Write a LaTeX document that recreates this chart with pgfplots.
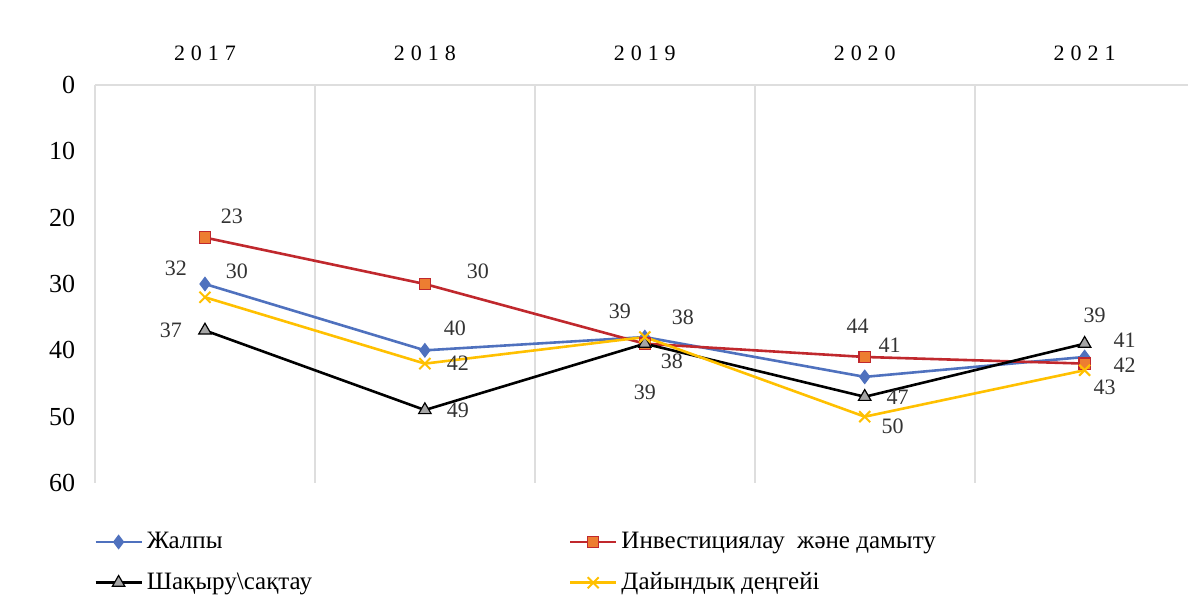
\documentclass[border=0pt]{standalone}
\usepackage{fontspec}
\setmainfont{Liberation Serif}
\newfontfamily\yearfont[LetterSpace=27]{Liberation Serif}
\usepackage{pgfplots}
\usepackage{pgfplotstable}
\pgfplotsset{compat=1.18}
\definecolor{cblue}{RGB}{79,113,190}
\definecolor{cred}{RGB}{192,40,45}
\definecolor{corange}{RGB}{237,125,49}
\definecolor{cyellow}{RGB}{255,192,0}
\definecolor{cgrid}{RGB}{222,222,222}

\pgfplotstableread{
x y dx dy lbl
1 30 16 6.5 30
2 40 15 11 40
3 38 19 10 38
4 44 -3.5 25.5 44
5 41 20 8.5 41
}\tblue
\pgfplotstableread{
x y dx dy lbl
1 23 13.5 10.5 23
2 30 26.5 6.5 30
3 39 -12.5 16 39
4 41 12.5 6 41
5 42 20 -1 42
}\tred
\pgfplotstableread{
x y dx dy lbl
1 37 -17 0 37
2 49 16.5 0 49
3 39 0 -24.5 39
4 47 16.5 0 47
5 39 5 14 39
}\tblack
\pgfplotstableread{
x y dx dy lbl
1 32 -14.5 14.5 32
2 42 16.5 0 42
3 38 13.5 -12 38
4 50 14 -5 50
5 43 10 -8.5 43
}\tyellow

\begin{document}
\begin{tikzpicture}[font=\fontsize{11}{13}\selectfont]
\useasboundingbox (-47.5pt,-58pt) rectangle (546.5pt,241.5pt);
\begin{axis}[
  at={(0,0)}, anchor=south west,
  scale only axis, width=546.5pt, height=199pt,
  xmin=0.5, xmax=5.47, ymin=0, ymax=60, y dir=reverse,
  xtick={1,2,3,4,5},
  xticklabels={{\yearfont 2017},{\yearfont 2018},{\yearfont 2019},{\yearfont 2020},{\yearfont 2021}},
  xticklabel pos=upper,
  xticklabel style={yshift=8pt},
  ytick={0,10,...,60},
  yticklabel style={xshift=-6pt, font=\fontsize{13}{15}\selectfont},
  /pgf/number format/assume math mode=true,
  major tick length=0pt,
  axis line style={draw=none},
  extra x ticks={0.5,1.5,2.5,3.5,4.5},
  extra x tick labels={},
  extra x tick style={grid=major, major grid style={cgrid, line width=0.9pt}},
  extra y ticks={0},
  extra y tick labels={},
  extra y tick style={grid=major, major grid style={cgrid, line width=0.9pt}},
  clip=false,
  line width=1.3pt,
  mark size=3pt,
  point meta=explicit symbolic,
  visualization depends on={\thisrow{dx}\as\mydx},
  visualization depends on={\thisrow{dy}\as\mydy},
  nodes near coords,
  every node near coord/.style={anchor=center, xshift=\mydx pt, yshift=\mydy pt, text=black!80, font=\fontsize{11}{13}\selectfont},
  legend columns=2,
  legend cell align=left,
  legend style={at={(0,0)}, anchor=north west, xshift=-4pt, yshift=-20pt, draw=none, fill=none, row sep=6.5pt,
    font=\fontsize{12.5}{14}\selectfont,
    /tikz/every even column/.append style={column sep=0pt}},
  legend image code/.code={\draw[mark repeat=2,mark phase=2] plot coordinates {(0pt,0pt)(11.5pt,0pt)(23pt,0pt)};},
]
\addplot[cblue, mark=diamond*, mark options={fill=cblue, draw=cblue, line width=0.6pt, scale=1.1}] table[x=x, y=y, meta=lbl] {\tblue};
\addlegendentry{\makebox[209pt][l]{Жалпы}}
\addplot[cred, mark=square*, mark options={fill=corange, draw=cred, line width=0.6pt, scale=0.95}] table[x=x, y=y, meta=lbl] {\tred};
\addlegendentry{Инвестициялау\ \ және дамыту}
\addplot[black, mark=triangle*, mark options={fill=gray!70, draw=black, line width=0.6pt, scale=1.2}] table[x=x, y=y, meta=lbl] {\tblack};
\addlegendentry{\makebox[209pt][l]{Шақыру\textbackslash сақтау}}
\addplot[cyellow, mark=x, mark options={draw=cyellow, line width=1pt, scale=1.3}] table[x=x, y=y, meta=lbl] {\tyellow};
\addlegendentry{Дайындық деңгейі}
\end{axis}
\end{tikzpicture}
\end{document}
